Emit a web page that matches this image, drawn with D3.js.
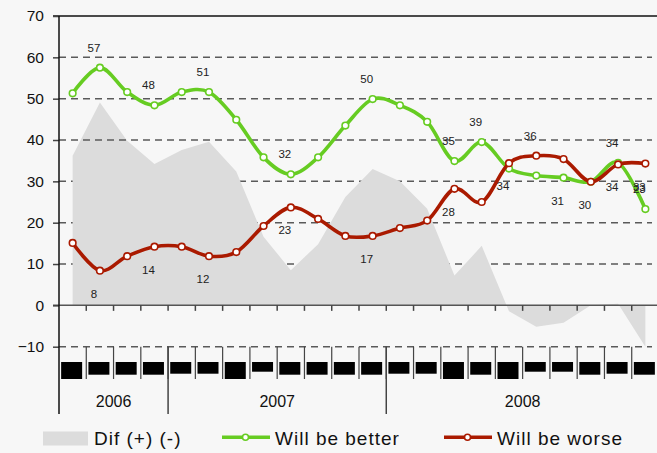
<!DOCTYPE html>
<html>
<head>
<meta charset="utf-8">
<script src="https://cdn.jsdelivr.net/npm/d3@7"></script>
<style>
  html, body { margin: 0; padding: 0; background: #f7f7f7; }
  svg { display: block; font-family: "Liberation Sans", Arial, sans-serif; }
</style>
</head>
<body>
<svg id="chart" width="657" height="453"></svg>
<script>
// ---- data ----
const periods = d3.range(22);                       // 22 survey points
const years = [{label: "2006", n: 4}, {label: "2007", n: 8}, {label: "2008", n: 10}];
// month label glyphs rendered as black blocks in the reference: size class per period
const monthBlocks = ["L","M","M","M","S","S","L","XS","M","M","M","M","S","S","L","M","L","XS","XS","M","S","M"];
const better = [51.3, 57.5, 51.6, 48.4, 51.6, 51.6, 44.9, 35.8, 31.7, 35.8, 43.5, 49.9, 48.4, 44.4, 34.9, 39.5, 33.1, 31.4, 30.9, 29.9, 34.5, 23.3];
const worse  = [15.1, 8.4, 11.9, 14.2, 14.2, 11.9, 12.9, 19.2, 23.7, 20.9, 16.8, 16.8, 18.7, 20.5, 28.2, 25.0, 34.4, 36.2, 35.4, 29.9, 34.1, 34.3];
const dif    = [36.2, 49.1, 39.8, 34.2, 37.6, 39.6, 32.4, 16.6, 8.5, 14.8, 26.2, 33.0, 30.0, 23.4, 7.2, 14.4, -1.4, -5.2, -4.2, 0.0, 0.4, -10.0];
const yTicks = [70, 60, 50, 40, 30, 20, 10, 0, -10];
const betterLabels = [
  {i: 1, t: "57", side: "above"}, {i: 3, t: "48", side: "above"}, {i: 5, t: "51", side: "above"},
  {i: 8, t: "32", side: "above"}, {i: 11, t: "50", side: "above"}, {i: 14, t: "35", side: "above"},
  {i: 15, t: "39", side: "above"}, {i: 18, t: "31", side: "below"}, {i: 19, t: "30", side: "below"},
  {i: 20, t: "34", side: "above"}, {i: 21, t: "23", side: "above"}
];
const worseLabels = [
  {i: 1, t: "8", side: "below"}, {i: 3, t: "14", side: "below"}, {i: 5, t: "12", side: "below"},
  {i: 8, t: "23", side: "below"}, {i: 11, t: "17", side: "below"}, {i: 14, t: "28", side: "below"},
  {i: 16, t: "34", side: "below"}, {i: 17, t: "36", side: "above"}, {i: 20, t: "34", side: "below"},
  {i: 21, t: "33", side: "below"}
];
const legendLabels = ["Dif (+) (-)", "Will be better", "Will be worse"];

// ---- styles ----
const GREEN = "#66cc22", RED = "#aa1a00", AREA = "#dcdcdc", GRID = "#5a5a5a";

const svg = d3.select("#chart");
svg.append("rect").attr("width", 657).attr("height", 453).attr("fill", "#f7f7f7");

const x = d3.scaleBand().domain(periods).range([59, 659]).padding(0);
const cx = i => x(i) + x.bandwidth() / 2;
const y = d3.scaleLinear().domain([-10, 70]).range([346.7, 16]);

const gridLeft = 59, gridRight = 652;

function gridLine(v, g) {
  g.append("line")
    .attr("x1", gridLeft).attr("x2", gridRight)
    .attr("y1", y(v)).attr("y2", y(v))
    .attr("stroke", GRID).attr("stroke-width", 1.5)
    .attr("stroke-dasharray", "7,5");
}

// gridlines behind area
const gBack = svg.append("g");
[30, 20, 10, -10].forEach(v => gridLine(v, gBack));

// area of difference
const area = d3.area()
  .x((d, i) => cx(i))
  .y0(y(0))
  .y1(d => y(d))
  .curve(d3.curveLinear);
svg.append("path").datum(dif).attr("d", area).attr("fill", AREA);

// gridlines above area
const gFront = svg.append("g");
[60, 50, 40].forEach(v => gridLine(v, gFront));

// zero line
svg.append("line").attr("x1", 53).attr("x2", 657).attr("y1", y(0)).attr("y2", y(0))
  .attr("stroke", "#555").attr("stroke-width", 1.5);
// top line (70)
svg.append("line").attr("x1", 53).attr("x2", 657).attr("y1", y(70)).attr("y2", y(70))
  .attr("stroke", "#111").attr("stroke-width", 1.5);

// y axis using d3 axis
const yAxis = d3.axisLeft(y).tickValues(yTicks).tickSize(6).tickPadding(9).tickFormat(d3.format("d"));
const ya = svg.append("g").attr("transform", "translate(59,0)").call(yAxis);
ya.select(".domain").remove();
ya.selectAll(".tick line").attr("stroke", "#444").attr("stroke-width", 1.5);
ya.selectAll(".tick text").attr("font-size", 15.5).attr("fill", "#111")
  .attr("font-family", "Liberation Sans, Arial, sans-serif");
// axis line
svg.append("line").attr("x1", 59).attr("x2", 59).attr("y1", 16).attr("y2", 414)
  .attr("stroke", "#111").attr("stroke-width", 1.5);

// ticks at zero line and month separators
const bounds = d3.range(1, periods.length).map(k => x(k));
svg.append("g").selectAll("line.zt").data(bounds).join("line")
  .attr("x1", d => d).attr("x2", d => d)
  .attr("y1", y(0)).attr("y2", y(0) + 5.5)
  .attr("stroke", "#444").attr("stroke-width", 1.5);
svg.append("g").selectAll("line.ms").data(bounds).join("line")
  .attr("x1", d => d).attr("x2", d => d)
  .attr("y1", y(-10)).attr("y2", 379)
  .attr("stroke", "#444").attr("stroke-width", 1.2);

// year separators & labels
let start = 0;
const yearG = svg.append("g");
years.forEach(yr => {
  const x0 = x(start);
  const x1 = start + yr.n < periods.length ? x(start + yr.n) : x.range()[1];
  if (start > 0) {
    yearG.append("line").attr("x1", x0).attr("x2", x0).attr("y1", y(-10)).attr("y2", 414)
      .attr("stroke", "#444").attr("stroke-width", 1.5);
  }
  yearG.append("text").attr("x", (x0 + x1) / 2).attr("y", 407)
    .attr("text-anchor", "middle").attr("font-size", 16).attr("fill", "#111").text(yr.label);
  start += yr.n;
});

// month blocks
const blockH = {L: 17, M: 12.7, S: 11.7, XS: 9.7};
svg.append("g").selectAll("rect").data(monthBlocks).join("rect")
  .attr("x", (d, i) => cx(i) - 11.5)
  .attr("y", 362)
  .attr("width", 21)
  .attr("height", d => blockH[d])
  .attr("fill", "#000");

// lines
const line = d3.line().x((d, i) => cx(i)).y(d => y(d)).curve(d3.curveCatmullRom.alpha(0));
function series(data, color) {
  svg.append("path").datum(data).attr("d", line).attr("fill", "none")
    .attr("stroke", color).attr("stroke-width", 3.6).attr("stroke-linejoin", "round");
  svg.append("g").selectAll("circle").data(data).join("circle")
    .attr("cx", (d, i) => cx(i)).attr("cy", d => y(d)).attr("r", 3.3)
    .attr("fill", "#fff").attr("stroke", color).attr("stroke-width", 1.6);
}
series(better, GREEN);
series(worse, RED);

// data labels
function labels(list, data) {
  svg.append("g").selectAll("text").data(list).join("text")
    .attr("x", d => cx(d.i) - 6)
    .attr("y", d => y(data[d.i]) + (d.side === "above" ? -20 : 23))
    .attr("dy", "0.35em")
    .attr("text-anchor", "middle").attr("font-size", 11.5).attr("fill", "#222")
    .text(d => d.t);
}
labels(betterLabels, better);
labels(worseLabels, worse);

// legend
const lg = svg.append("g").attr("font-size", 19).attr("fill", "#111").attr("letter-spacing", 1);
lg.append("rect").attr("x", 43).attr("y", 431.5).attr("width", 45).attr("height", 14).attr("fill", AREA);
lg.append("text").attr("x", 94).attr("y", 445).text(legendLabels[0]);
[[222, GREEN, 275, legendLabels[1]], [444, RED, 497, legendLabels[2]]].forEach(([lx, col, tx, txt]) => {
  lg.append("line").attr("x1", lx).attr("x2", lx + 48).attr("y1", 437.3).attr("y2", 437.3)
    .attr("stroke", col).attr("stroke-width", 3.6);
  lg.append("circle").attr("cx", lx + 23.5).attr("cy", 437.3).attr("r", 3)
    .attr("fill", "#fff").attr("stroke", col).attr("stroke-width", 1.6);
  lg.append("text").attr("x", tx).attr("y", 445).text(txt);
});
</script>
</body>
</html>
